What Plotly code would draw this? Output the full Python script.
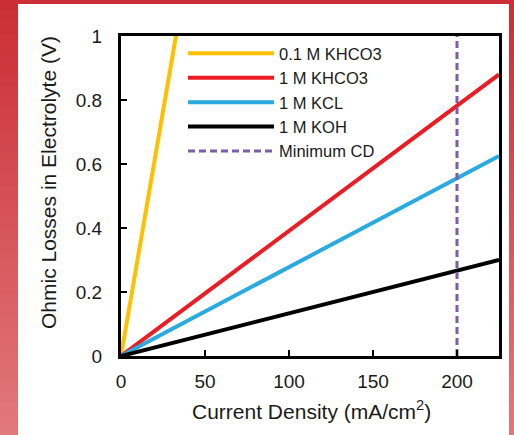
import plotly.graph_objects as go

# ---------------- data ----------------
current_density = [0, 225]                 # mA/cm2
loss_01M_KHCO3 = [0, 6.88]                 # V
loss_1M_KHCO3 = [0, 0.88]
loss_1M_KCL = [0, 0.625]
loss_1M_KOH = [0, 0.30]
min_cd_x = [200, 200]
min_cd_y = [0, 1]

series_names = ["0.1 M KHCO3", "1 M KHCO3", "1 M KCL", "1 M KOH"]
series_values = [loss_01M_KHCO3, loss_1M_KHCO3, loss_1M_KCL, loss_1M_KOH]
series_colors = ["#ffc000", "#ec1c24", "#29abe2", "#000000"]

x_ticks = [0, 50, 100, 150, 200]
y_ticks = [0, 0.2, 0.4, 0.6, 0.8, 1]
y_ticklabels = ["0", "0.2", "0.4", "0.6", "0.8", "1"]

# ---------------- layout geometry (px) ----------------
W, H = 514, 435
L, R, T, B = 121, 15, 36, 79
PW, PH = W - L - R, H - T - B


def px_x(px):
    return (px - L) / PW


def px_y(py):
    return (H - B - py) / PH


fig = go.Figure()
for name, vals, col in zip(series_names, series_values, series_colors):
    fig.add_trace(go.Scatter(x=current_density, y=vals, mode="lines", name=name,
                             line=dict(color=col, width=4)))
fig.add_trace(go.Scatter(x=min_cd_x, y=min_cd_y, mode="lines", name="Minimum CD",
                         line=dict(color="#7a5fa6", width=3, dash="7px,4px")))

# background: red gradient border with a white panel
shapes = []
n = 40
top = (203, 46, 54)
bot = (225, 120, 122)
for i in range(n):
    f = i / (n - 1)
    c = tuple(round(top[k] + (bot[k] - top[k]) * f) for k in range(3))
    y0 = H * i / n
    y1 = H * (i + 1) / n + 1
    shapes.append(dict(type="rect", xref="paper", yref="paper", layer="below",
                       x0=px_x(-2), x1=px_x(W + 2), y0=px_y(y1), y1=px_y(y0),
                       line=dict(width=0), fillcolor="rgb(%d,%d,%d)" % c))
shapes.append(dict(type="rect", xref="paper", yref="paper", layer="below",
                   x0=px_x(18), x1=px_x(509), y0=px_y(H + 2), y1=px_y(4),
                   line=dict(width=0), fillcolor="white"))

font_color = "#1a1a1a"
fig.update_layout(
    width=W, height=H,
    margin=dict(l=L, r=R, t=T, b=B, pad=0),
    paper_bgcolor="rgb(214,80,88)",
    plot_bgcolor="rgba(0,0,0,0)",
    shapes=shapes,
    font=dict(family="Liberation Sans, Arial", color=font_color),
    showlegend=True,
    legend=dict(x=px_x(183), y=px_y(36), xanchor="left", yanchor="top",
                bgcolor="rgba(0,0,0,0)", borderwidth=0,
                font=dict(size=16.5, color=font_color),
                itemwidth=86, tracegroupgap=0),
    annotations=[
        dict(text="Current Density (mA/cm<sup>2</sup>)", xref="paper", yref="paper",
             x=px_x(311), y=px_y(410), xanchor="center", yanchor="middle",
             showarrow=False, font=dict(size=21, color=font_color)),
        dict(text="Ohmic Losses in Electrolyte (V)", xref="paper", yref="paper",
             x=px_x(48), y=px_y(183), xanchor="center", yanchor="middle",
             showarrow=False, textangle=-90,
             font=dict(size=21, color=font_color)),
    ],
)
fig.update_xaxes(range=[0, 225], tickvals=x_ticks, ticks="inside", ticklen=6,
                 tickwidth=2, tickcolor="black", showline=True, linecolor="black",
                 linewidth=3, mirror=True, showgrid=False, zeroline=False,
                 tickfont=dict(size=19, color=font_color), ticklabelstandoff=6)
fig.update_yaxes(range=[0, 1], tickvals=y_ticks, ticktext=y_ticklabels,
                 ticks="inside", ticklen=6, tickwidth=2, tickcolor="black",
                 showline=True, linecolor="black", linewidth=3, mirror=True,
                 showgrid=False, zeroline=False,
                 tickfont=dict(size=19, color=font_color), ticklabelstandoff=12)

fig.write_html("out.html", config={"displayModeBar": False},
               post_script="document.body.style.margin='0px';")
